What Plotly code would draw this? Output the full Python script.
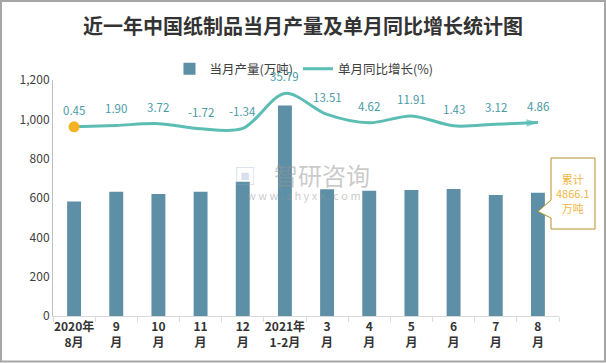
import plotly.graph_objects as go

categories = ["2020年<br>8月", "9<br>月", "10<br>月", "11<br>月", "12<br>月", "2021年<br>1-2月",
              "3<br>月", "4<br>月", "5<br>月", "6<br>月", "7<br>月", "8<br>月"]
output_values = [582, 632, 620, 632, 683, 1070, 644, 637, 641, 646, 615, 627]
growth_values = [0.45, 1.90, 3.72, -1.72, -1.34, 35.79, 13.51, 4.62, 11.91, 1.43, 3.12, 4.86]
growth_labels = ["0.45", "1.90", "3.72", "-1.72", "-1.34", "35.79", "13.51", "4.62", "11.91", "1.43", "3.12", "4.86"]
cumulative_text = "累计<br>4866.1<br>万吨"

FONT = "Noto Sans CJK SC"
BAR_COLOR = "#5d8fa6"
LINE_COLOR = "#5bbdb4"
LABEL_COLOR = "#4a9aa6"

# plot area in pixels: left 53, right 559, top 80, bottom 316
L, T, W, H = 53, 80, 506, 236
def px(x):
    return (x - L) / W
def py(y):
    return (T + H - y) / H

fig = go.Figure()

fig.add_trace(go.Bar(
    x=categories, y=output_values, name="当月产量(万吨)",
    marker=dict(color=BAR_COLOR, line=dict(width=0)), width=0.33,
))

n = len(growth_values)
fig.add_trace(go.Scatter(
    x=categories, y=growth_values, yaxis="y2", mode="lines+markers",
    line=dict(color=LINE_COLOR, width=3, shape="spline", smoothing=0.9),
    marker=dict(size=[0] * (n - 1) + [12], symbol=["circle"] * (n - 1) + ["arrow"],
                angleref="previous", color=LINE_COLOR, line=dict(width=0)),
    showlegend=False, hoverinfo="skip",
))
fig.add_trace(go.Scatter(
    x=categories[:1], y=growth_values[:1], yaxis="y2", mode="markers",
    marker=dict(size=11, color="#f5b323"), showlegend=False, hoverinfo="skip",
))
fig.add_trace(go.Scatter(
    x=[None], y=[None], yaxis="y2", mode="lines", name="单月同比增长(%)",
    line=dict(color=LINE_COLOR, width=3),
))

annotations = []
for c, v, t in zip(categories, growth_values, growth_labels):
    annotations.append(dict(x=c, y=v, xref="x", yref="y2", text=t, showarrow=False,
                            xanchor="center", yanchor="middle",
                            yshift=17, font=dict(family=FONT, size=11.5, color=LABEL_COLOR)))

# watermark
annotations.append(dict(x=px(322), y=py(174), xref="paper", yref="paper", text="智研咨询",
                        xanchor="center", yanchor="middle", showarrow=False,
                        font=dict(family=FONT, size=24, color="rgba(150,150,150,0.5)")))
annotations.append(dict(x=px(304), y=py(195), xref="paper", yref="paper",
                        text="w w w . c h y x x . c o m", showarrow=False,
                        xanchor="center", yanchor="middle",
                        font=dict(family=FONT, size=11, color="rgba(150,150,150,0.5)")))
annotations.append(dict(x=px(245), y=py(174), xref="paper", yref="paper", text="▣",
                        xanchor="center", yanchor="middle", showarrow=False,
                        font=dict(family=FONT, size=22, color="rgba(150,170,205,0.4)")))

# cumulative callout text
annotations.append(dict(x=px(573), y=py(193.5), xref="paper", yref="paper", text=cumulative_text,
                        showarrow=False, align="center", xanchor="center", yanchor="middle",
                        font=dict(family=FONT, size=11, color="#f0b642")))

callout_path = (f"M {px(551)},{py(158)} L {px(595)},{py(158)} L {px(595)},{py(229)} "
                f"L {px(551)},{py(229)} L {px(551)},{py(218)} L {px(538)},{py(211.5)} "
                f"L {px(551)},{py(200)} Z")

shapes = [
    dict(type="path", xref="paper", yref="paper", path=callout_path,
         line=dict(color="#b8902a", width=1), fillcolor="white", layer="above"),
    dict(type="rect", xref="paper", yref="paper", x0=px(1), x1=px(605), y0=py(361.5), y1=py(1),
         line=dict(color="#a6a6a6", width=2), fillcolor="rgba(0,0,0,0)"),
]

fig.update_layout(
    width=606, height=363,
    margin=dict(l=L, r=606 - L - W, t=T, b=363 - T - H),
    paper_bgcolor="white", plot_bgcolor="white",
    font=dict(family=FONT, size=12, color="#404040"),
    title=dict(text="近一年中国纸制品当月产量及单月同比增长统计图", x=0.5, xanchor="center",
               y=1 - 27 / 363, yanchor="middle",
               font=dict(family=FONT, size=20, color="#333333", weight=700)),
    legend=dict(orientation="h", x=px(304), xanchor="center", y=py(69), yanchor="middle",
                font=dict(family=FONT, size=12.5, color="#404040"), itemwidth=30,
                bgcolor="rgba(0,0,0,0)", traceorder="normal"),
    xaxis=dict(type="category", range=[-0.5, 11.5], showgrid=False, showline=True,
               linecolor="#d9d9d9", linewidth=1, ticks="outside", tickson="boundaries",
               ticklen=5, tickcolor="#d9d9d9", tickangle=0, automargin=False,
               tickfont=dict(family=FONT, size=12, color="#333333", weight=700)),
    yaxis=dict(range=[0, 1200], dtick=200, tickformat=",d", showgrid=False, showline=True,
               linecolor="#bfbfbf", linewidth=1, ticks="", zeroline=False, automargin=False,
               tickfont=dict(family=FONT, size=12, color="#404040")),
    yaxis2=dict(range=[-200, 50], overlaying="y", side="right", visible=False),
    annotations=annotations, shapes=shapes, bargap=0.67,
)

fig.write_html("out.html", config={"displayModeBar": False},
               post_script="document.body.style.margin='0';document.body.style.overflow='hidden';")
